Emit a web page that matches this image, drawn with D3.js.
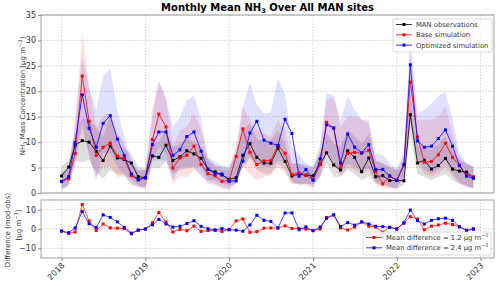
<!DOCTYPE html>
<html>
<head>
<meta charset="utf-8">
<script src="https://cdn.jsdelivr.net/npm/d3@7"></script>
<style>
  body { margin: 0; background: #fff; }
  svg { font-family: "DejaVu Sans", sans-serif; }
</style>
</head>
<body>
<svg id="chart" width="500" height="286"></svg>
<script>
// monthly means, Jan 2018 .. Dec 2022 (ug m-3)
var obsMean = [3.35, 5.1, 9.35, 10.3, 10.0, 8.2, 6.4, 9.2, 6.9, 6.6, 5.9, 3.2,
  3.0, 7.3, 7.0, 9.4, 6.4, 7.1, 8.3, 7.7, 6.85, 4.6, 4.15, 3.55,
  2.7, 3.0, 7.4, 9.7, 7.0, 5.9, 5.85, 8.8, 6.2, 3.35, 3.7, 3.5,
  3.4, 5.65, 7.9, 5.5, 4.55, 8.3, 7.0, 4.2, 6.9, 3.2, 3.4, 2.45,
  2.45, 2.4, 15.4, 5.9, 6.45, 4.7, 5.4, 6.8, 4.7, 4.3, 4.1, 3.0];
var baseMean = [2.3, 2.8, 7.8, 23.0, 14.1, 7.4, 9.0, 9.8, 7.3, 6.8, 3.4, 2.6,
  3.0, 10.5, 15.5, 13.0, 4.9, 6.9, 7.4, 9.2, 5.6, 3.8, 3.35, 2.3,
  2.4, 7.2, 12.6, 8.0, 5.6, 6.3, 6.4, 9.35, 7.8, 3.6, 3.95, 3.5,
  2.6, 5.65, 13.9, 12.75, 5.1, 7.8, 8.0, 7.8, 8.4, 4.2, 1.8, 3.3,
  2.5, 5.4, 21.8, 11.0, 6.05, 6.2, 7.5, 9.8, 7.0, 5.45, 3.55, 3.2];
var optMean = [2.25, 3.2, 9.9, 19.3, 12.7, 9.0, 13.7, 15.2, 10.6, 7.4, 3.75, 2.6,
  3.0, 9.5, 12.0, 12.0, 7.4, 8.5, 11.1, 12.0, 8.2, 4.7, 3.75, 3.75,
  2.3, 2.4, 6.25, 11.8, 14.1, 10.4, 9.8, 9.35, 14.5, 11.7, 3.3, 4.6,
  2.5, 6.7, 13.4, 12.8, 5.9, 11.6, 9.0, 7.9, 9.5, 4.6, 4.6, 3.35,
  2.5, 5.6, 25.2, 10.25, 9.0, 9.2, 10.7, 12.4, 9.2, 5.4, 3.3, 2.9];

// spread across sites (shaded bands)
var obsLow = [0.5, 1.4, 6.4, 6.1, 6.4, 4.1, 2.8, 4.5, 3.8, 3.5, 2.8, 1.5,
  1.2, 5.1, 4.8, 6.1, 3.8, 4.5, 4.8, 5.1, 5.1, 2.5, 2.5, 1.8,
  1.5, 1.8, 5.1, 6.8, 4.5, 3.8, 3.8, 5.8, 4.5, 1.8, 1.8, 1.8,
  1.8, 3.2, 5.8, 3.2, 3.2, 4.5, 3.8, 2.5, 3.2, 1.8, 1.5, 1.2,
  0.9, 1.5, 11.1, 3.8, 3.2, 2.5, 3.2, 3.8, 2.5, 1.8, 1.5, 0.9];
var obsHigh = [5.3, 6.4, 11.7, 14.7, 14.4, 13.0, 11.1, 15.7, 9.7, 8.7, 7.8, 5.1,
  4.8, 9.7, 10.1, 12.4, 9.1, 9.7, 10.7, 10.1, 9.1, 6.8, 5.5, 5.1,
  4.8, 7.8, 12.4, 13.7, 10.7, 10.1, 10.4, 12.4, 9.7, 5.8, 5.8, 5.5,
  5.1, 7.8, 11.7, 9.7, 9.1, 12.4, 11.1, 9.7, 11.7, 6.4, 5.8, 5.1,
  4.5, 5.1, 19.5, 9.1, 9.1, 8.4, 9.7, 11.1, 8.4, 6.4, 5.8, 5.1];
var baseLow = [0.9, 1.8, 5.1, 12.0, 7.8, 3.2, 5.1, 5.1, 3.2, 3.2, 1.5, 1.2,
  0.9, 6.4, 9.1, 7.8, 1.8, 3.2, 3.2, 4.5, 3.8, 1.8, 1.5, 0.9,
  0.5, 1.8, 5.1, 3.8, 2.5, 3.2, 3.5, 5.1, 3.8, 1.8, 1.8, 1.5,
  0.9, 3.2, 7.8, 5.8, 3.2, 5.1, 4.5, 3.8, 4.5, 1.8, 0.9, 0.9,
  0.9, 3.2, 14.4, 5.8, 3.8, 3.2, 3.8, 5.1, 3.2, 1.8, 1.2, 0.9];
var baseHigh = [4.3, 4.5, 13.0, 31.8, 20.9, 13.0, 15.0, 15.7, 11.7, 9.7, 5.8, 4.3,
  4.5, 17.0, 21.9, 19.0, 9.1, 12.4, 13.0, 15.7, 12.4, 6.4, 5.1, 4.5,
  4.3, 8.4, 17.0, 14.4, 12.4, 11.7, 11.1, 14.4, 12.4, 5.8, 5.8, 5.1,
  4.5, 8.4, 18.3, 18.8, 13.0, 15.0, 15.0, 14.4, 13.7, 6.4, 5.8, 5.1,
  4.5, 7.1, 28.1, 14.4, 14.4, 14.4, 15.0, 17.0, 11.7, 7.1, 5.8, 5.1];
var optLow = [0.9, 1.5, 6.4, 13.7, 7.1, 2.5, 7.8, 7.8, 5.1, 3.8, 1.8, 1.2,
  0.9, 6.4, 6.4, 6.4, 2.5, 5.1, 5.1, 5.1, 3.2, 2.2, 1.8, 1.2,
  0.9, 2.2, 5.8, 7.1, 5.8, 5.1, 5.1, 6.4, 6.4, 2.5, 1.5, 1.8,
  1.2, 3.8, 7.8, 5.8, 3.8, 5.8, 5.1, 4.5, 4.8, 2.2, 1.8, 1.2,
  0.9, 3.5, 14.4, 6.4, 4.5, 3.8, 4.5, 6.4, 3.8, 2.2, 1.2, 0.9];
var optHigh = [4.0, 4.8, 14.4, 26.8, 20.9, 16.3, 22.9, 24.5, 16.3, 11.1, 6.4, 4.5,
  4.5, 15.0, 21.9, 18.3, 13.0, 15.0, 18.3, 19.1, 14.4, 7.1, 6.1, 5.5,
  5.1, 9.1, 17.0, 21.6, 17.3, 15.7, 15.8, 22.6, 19.3, 9.1, 7.5, 5.8,
  5.1, 9.7, 19.6, 19.1, 14.4, 19.0, 16.3, 14.4, 14.4, 7.8, 7.5, 5.8,
  4.8, 7.8, 30.1, 15.7, 16.3, 17.6, 19.0, 19.9, 14.4, 7.8, 5.8, 5.1];

var topTicks = [0, 5, 10, 15, 20, 25, 30, 35];
var diffTicks = [-10, 0, 10];
var yearTicks = [2018, 2019, 2020, 2021, 2022, 2023];
var seriesNames = ['MAN observations', 'Base simulation', 'Optimized simulation'];
var diffNames = ['Mean difference = 1.2 \u03bcg m', 'Mean difference = 2.4 \u03bcg m'];

var months = d3.timeMonth.range(new Date(2018, 0, 1), new Date(2023, 0, 1));

var svg = d3.select('#chart');
var left = 41, right = 494;
var span = months[months.length - 1] - months[0];
var x = d3.scaleTime()
  .domain([new Date(+months[0] - span * 0.05), new Date(+months[months.length - 1] + span * 0.05)])
  .range([left, right]);
var y = d3.scaleLinear().domain([0, 35]).range([193, 15]);
var yd = d3.scaleLinear().domain([-15, 15]).range([258, 200]);

var gridColor = '#b0b0b0', spineColor = '#888', textColor = '#333';

function drawFrame(sc, ticks, fmt) {
  var r = sc.range();
  // grid
  svg.append('g').selectAll('line.gx').data(yearTicks).enter().append('line')
    .attr('x1', function(d) { return x(new Date(d, 0, 1)); })
    .attr('x2', function(d) { return x(new Date(d, 0, 1)); })
    .attr('y1', r[0]).attr('y2', r[1])
    .style('stroke', gridColor).style('stroke-width', 0.6).style('stroke-dasharray', '1.5,1.5');
  svg.append('g').selectAll('line.gy').data(ticks).enter().append('line')
    .attr('x1', left).attr('x2', right)
    .attr('y1', function(d) { return sc(d); })
    .attr('y2', function(d) { return sc(d); })
    .style('stroke', gridColor).style('stroke-width', 0.6).style('stroke-dasharray', '1.5,1.5');
  var ax = svg.append('g').attr('transform', 'translate(' + left + ',0)')
    .call(d3.axisLeft(sc).tickValues(ticks).tickSize(3).tickPadding(2).tickFormat(fmt));
  ax.select('.domain').remove();
  ax.selectAll('line').style('stroke', spineColor);
  ax.selectAll('text').style('font-size', '8px').style('fill', textColor)
    .style('font-family', '"DejaVu Sans", sans-serif');
}

function drawSpines(sc) {
  var r = sc.range();
  svg.append('rect').attr('x', left).attr('y', r[1])
    .attr('width', right - left).attr('height', r[0] - r[1])
    .style('fill', 'none').style('stroke', spineColor).style('stroke-width', 0.8);
}

drawFrame(y, topTicks, d3.format('d'));
drawFrame(yd, diffTicks, function(d) { return d < 0 ? '\u2212' + Math.abs(d) : d; });

// shaded bands
function band(lo, hi, color, op) {
  var area = d3.area()
    .x(function(d, i) { return x(months[i]); })
    .y0(function(d, i) { return y(lo[i]); })
    .y1(function(d, i) { return y(hi[i]); });
  svg.append('path').datum(lo).attr('d', area)
    .style('fill', color).style('fill-opacity', op).style('stroke', 'none');
}
band(obsLow, obsHigh, 'gray', 0.25);
band(baseLow, baseHigh, 'red', 0.12);
band(optLow, optHigh, 'blue', 0.12);

function series(vals, sc, color, w) {
  var line = d3.line()
    .x(function(d, i) { return x(months[i]); })
    .y(function(d) { return sc(d); });
  var g = svg.append('g');
  g.append('path').datum(vals).attr('d', line)
    .style('fill', 'none').style('stroke', color).style('stroke-width', w);
  g.selectAll('rect').data(vals).enter().append('rect')
    .attr('x', function(d, i) { return x(months[i]) - 1.5; })
    .attr('y', function(d) { return sc(d) - 1.5; })
    .attr('width', 3).attr('height', 3)
    .style('fill', color);
}
series(obsMean, y, 'black', 0.8);
series(baseMean, y, 'red', 0.8);
series(optMean, y, 'blue', 0.8);

// model minus observation
var baseDiff = baseMean.map(function(v, i) { return v - obsMean[i]; });
var optDiff = optMean.map(function(v, i) { return v - obsMean[i]; });
series(baseDiff, yd, 'red', 0.7);
series(optDiff, yd, 'blue', 0.7);

drawSpines(y);
drawSpines(yd);

// x ticks on bottom panel
var xa = svg.append('g').attr('transform', 'translate(0,258)')
  .call(d3.axisBottom(x).tickValues(yearTicks.map(function(d) { return new Date(d, 0, 1); }))
    .tickSize(3).tickFormat(d3.timeFormat('%Y')));
xa.select('.domain').remove();
xa.selectAll('line').style('stroke', spineColor);
xa.selectAll('text')
  .style('font-size', '8px').style('fill', textColor).style('font-family', '"DejaVu Sans", sans-serif')
  .attr('text-anchor', 'end').attr('dy', null).attr('y', 0)
  .attr('transform', 'translate(3,8) rotate(-45)');

// title
var title = svg.append('text').attr('x', (left + right) / 2).attr('y', 11)
  .attr('text-anchor', 'middle').style('font-size', '10px').style('font-weight', 'bold').style('fill', '#000');
title.append('tspan').text('Monthly Mean NH');
title.append('tspan').text('3').style('font-size', '6.5px').attr('dy', 2);
title.append('tspan').text(' Over All MAN sites').attr('dy', -2);

// y labels
var yl = svg.append('text').attr('transform', 'translate(25,96) rotate(-90)')
  .attr('text-anchor', 'middle').style('font-size', '7px').style('fill', textColor);
yl.append('tspan').text('NH');
yl.append('tspan').text('3').style('font-size', '5px').attr('dy', 1.5);
yl.append('tspan').text(' Mass Concentration [\u03bcg m').attr('dy', -1.5);
yl.append('tspan').text('\u22123').style('font-size', '5px').attr('dy', -3);
yl.append('tspan').text(']').attr('dy', 3);

var dl = svg.append('text').attr('transform', 'translate(9.5,230) rotate(-90)')
  .attr('text-anchor', 'middle').style('font-size', '7px').style('fill', textColor);
dl.append('tspan').attr('x', 0).text('Difference (mod-obs)');
var dl2 = svg.append('text').attr('transform', 'translate(20.5,225) rotate(-90)')
  .attr('text-anchor', 'middle').style('font-size', '7px').style('fill', textColor);
dl2.append('tspan').text('[\u03bcg m');
dl2.append('tspan').text('\u22123').style('font-size', '5px').attr('dy', -3);
dl2.append('tspan').text(']').attr('dy', 3);

// legends
function legend(x0, y0, w, h, rows, colors, sup) {
  var g = svg.append('g');
  g.append('rect').attr('x', x0).attr('y', y0).attr('width', w).attr('height', h).attr('rx', 2)
    .style('fill', '#fff').style('fill-opacity', 0.8).style('stroke', '#ccc').style('stroke-width', 0.7);
  rows.forEach(function(name, i) {
    var yy = y0 + 5.5 + i * 10.3;
    g.append('line').attr('x1', x0 + 3).attr('x2', x0 + 19).attr('y1', yy).attr('y2', yy)
      .style('stroke', colors[i]).style('stroke-width', 0.8);
    g.append('rect').attr('x', x0 + 9.5).attr('y', yy - 1.5).attr('width', 3).attr('height', 3)
      .style('fill', colors[i]);
    var t = g.append('text').attr('x', x0 + 23).attr('y', yy + 2.6)
      .style('font-size', '6.8px').style('fill', textColor);
    t.append('tspan').text(name);
    if (sup) t.append('tspan').text('\u22123').style('font-size', '4.8px').attr('dy', -3);
  });
}
legend(393, 19, 99, 33, seriesNames, ['black', 'red', 'blue'], false);
legend(363, 232, 128, 23, diffNames, ['red', 'blue'], true);
</script>
</body>
</html>
